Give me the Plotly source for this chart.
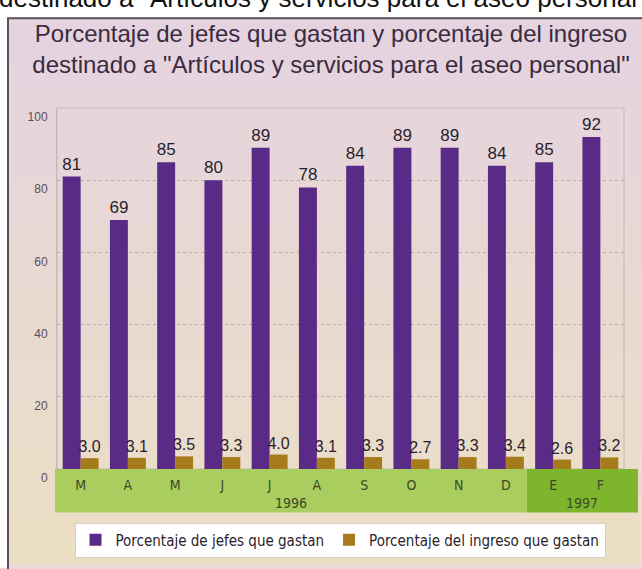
import plotly.graph_objects as go

months = ["M", "A", "M", "J", "J", "A", "S", "O", "N", "D", "E", "F"]
jefes = [81, 69, 85, 80, 89, 78, 84, 89, 89, 84, 85, 92]
ingreso = [3.0, 3.1, 3.5, 3.3, 4.0, 3.1, 3.3, 2.7, 3.3, 3.4, 2.6, 3.2]
ingreso_text = ["3.0", "3.1", "3.5", "3.3", "4.0", "3.1", "3.3", "2.7", "3.3", "3.4", "2.6", "3.2"]
y_ticks = [0, 20, 40, 60, 80, 100]
years = ["1996", "1997"]
series_names = ["Porcentaje de jefes que gastan", "Porcentaje del ingreso que gastan"]

x = list(range(len(months)))

W, H = 642, 569
L, R, T, B = 57, 624, 108, 474  # plot area in px
pw, ph = R - L, B - T

def px_x(p):
    return (p - L) / pw

def px_y(p):
    return (B - p) / ph

fig = go.Figure()
fig.add_trace(go.Bar(
    x=x, y=jefes, name=series_names[0], marker_color="#5a2a87",
    marker_line_width=0, text=[str(v) for v in jefes], textposition="outside",
    textfont=dict(family="Liberation Sans, Arial, sans-serif", size=17, color="#2a1e2e"),
    constraintext="none", cliponaxis=False,
))
fig.add_trace(go.Bar(
    x=x, y=ingreso, name=series_names[1], marker_color="#a67b1c",
    marker_line_width=0, text=ingreso_text, textposition="outside",
    textfont=dict(family="Liberation Sans, Arial, sans-serif", size=16, color="#2a1e2e"),
    constraintext="none", cliponaxis=False,
))

shapes = []
# background gradient (pinkish top to beige bottom)
top_c = (229, 211, 224)
bot_c = (235, 223, 196)
n = 24
for i in range(n):
    t = i / (n - 1)
    c = tuple(int(round(top_c[k] + (bot_c[k] - top_c[k]) * t)) for k in range(3))
    y0p = 17 + (H - 17) * i / n
    y1p = 17 + (H - 17) * (i + 1) / n
    shapes.append(dict(type="rect", xref="paper", yref="paper", layer="below",
                       x0=px_x(0), x1=px_x(W + 5), y0=px_y(y0p), y1=px_y(y1p + 1),
                       fillcolor="rgb(%d,%d,%d)" % c, line_width=0))
# white strip above / left of frame
shapes.append(dict(type="rect", xref="paper", yref="paper", layer="below",
                   x0=px_x(-5), x1=px_x(W + 5), y0=px_y(17), y1=px_y(-5),
                   fillcolor="white", line_width=0))
shapes.append(dict(type="rect", xref="paper", yref="paper", layer="below",
                   x0=px_x(-5), x1=px_x(8), y0=px_y(H + 5), y1=px_y(17),
                   fillcolor="white", line_width=0))
# frame
shapes.append(dict(type="rect", xref="paper", yref="paper", layer="above",
                   x0=px_x(8), x1=px_x(W + 10), y0=px_y(H + 10), y1=px_y(17),
                   line=dict(color="#5e4e58", width=2)))
# plot border
shapes.append(dict(type="rect", xref="paper", yref="paper", layer="below",
                   x0=0, x1=1, y0=0, y1=1, line=dict(color="#c9b8b8", width=1)))
# green month band
shapes.append(dict(type="rect", xref="paper", yref="paper", layer="below",
                   x0=px_x(55), x1=px_x(527), y0=px_y(518), y1=px_y(474),
                   fillcolor="#a9cd5e", line_width=0))
shapes.append(dict(type="rect", xref="paper", yref="paper", layer="below",
                   x0=px_x(527), x1=px_x(638), y0=px_y(518), y1=px_y(474),
                   fillcolor="#7db52c", line_width=0))

annotations = [
    dict(text='destinado a "Artículos y servicios para el aseo personal"',
         xref="paper", yref="paper", x=px_x(322), y=px_y(14), xanchor="center", yanchor="bottom",
         showarrow=False, font=dict(family="Liberation Sans, Arial, sans-serif", size=26, color="#111111")),
    dict(text=years[0], xref="paper", yref="paper", x=px_x(291), y=px_y(508),
         xanchor="center", yanchor="middle", showarrow=False,
         font=dict(family="DejaVu Sans Condensed, sans-serif", size=14, color="#3b4a28")),
    dict(text=years[1], xref="paper", yref="paper", x=px_x(582), y=px_y(508),
         xanchor="center", yanchor="middle", showarrow=False,
         font=dict(family="DejaVu Sans Condensed, sans-serif", size=14, color="#3b4a28")),
]

fig.update_layout(
    width=W, height=H,
    margin=dict(l=L, r=W - R, t=T, b=H - B),
    paper_bgcolor="#e9dad4", plot_bgcolor="rgba(0,0,0,0)",
    barmode="group", bargap=0.24, bargroupgap=0.0,
    title=dict(text='Porcentaje de jefes que gastan y porcentaje del ingreso<br>destinado a "Artículos y servicios para el aseo personal"',
               x=331 / W, xanchor="center", y=1 - 42 / H, yanchor="middle", yref="container",
               font=dict(family="Liberation Sans, Arial, sans-serif", size=24, color="#3a2b3e")),
    xaxis=dict(range=[-0.5, 11.5], tickmode="array", tickvals=x, ticktext=months,
               showgrid=False, zeroline=False, showline=False, ticks="",
               ticklabelstandoff=6,
               tickfont=dict(family="DejaVu Sans Condensed, sans-serif", size=14, color="#3b4a28")),
    yaxis=dict(range=[0, 100], tickmode="array", tickvals=y_ticks, ticks="",
               showgrid=True, gridcolor="#b8a8a8", griddash="dot", gridwidth=1,
               zeroline=False, showline=True, linecolor="#c9b8b8", linewidth=1,
               ticklabelshift=9, ticklabelstandoff=6,
               tickfont=dict(family="Liberation Sans, Arial, sans-serif", size=12, color="#5a5058")),
    legend=dict(orientation="h", x=px_x(340), y=px_y(546), xanchor="center", yanchor="middle",
                bgcolor="white", bordercolor="#d8d0c8", borderwidth=1,
                font=dict(family="DejaVu Sans Condensed, sans-serif", size=15, color="#2a1e2e"),
                itemwidth=30, traceorder="normal"),
    shapes=shapes,
    annotations=annotations,
    showlegend=True,
)

fig.write_html("out.html", config={"displayModeBar": False},
               post_script="document.body.style.margin='0';document.body.style.padding='0';document.body.style.overflow='hidden';")
